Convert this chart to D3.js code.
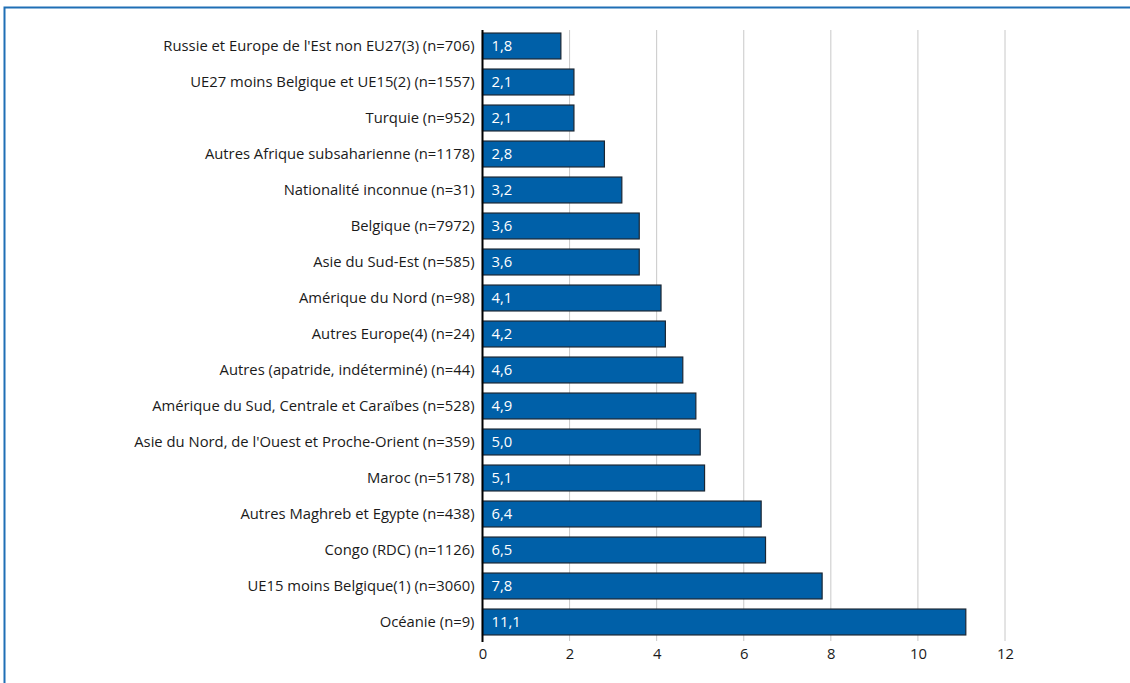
<!DOCTYPE html>
<html><head><meta charset="utf-8">
<script src="https://cdn.jsdelivr.net/npm/d3@7"></script>
<style>body{margin:0;background:#fff}svg{display:block}</style>
</head><body>
<script>
const categories = [
  "Russie et Europe de l'Est non EU27(3) (n=706)",
  "UE27 moins Belgique et UE15(2) (n=1557)",
  "Turquie (n=952)",
  "Autres Afrique subsaharienne (n=1178)",
  "Nationalité inconnue (n=31)",
  "Belgique (n=7972)",
  "Asie du Sud-Est (n=585)",
  "Amérique du Nord (n=98)",
  "Autres Europe(4) (n=24)",
  "Autres (apatride, indéterminé) (n=44)",
  "Amérique du Sud, Centrale et Caraïbes (n=528)",
  "Asie du Nord, de l'Ouest et Proche-Orient (n=359)",
  "Maroc (n=5178)",
  "Autres Maghreb et Egypte (n=438)",
  "Congo (RDC) (n=1126)",
  "UE15 moins Belgique(1) (n=3060)",
  "Océanie (n=9)"
];
const values = [1.8, 2.1, 2.1, 2.8, 3.2, 3.6, 3.6, 4.1, 4.2, 4.6, 4.9, 5.0, 5.1, 6.4, 6.5, 7.8, 11.1];
const tickValues = [0, 2, 4, 6, 8, 10, 12];

const W = 1130, H = 683;
const svg = d3.select("body").append("svg").attr("width", W).attr("height", H);
const font = "'Open Sans', 'Noto Sans', sans-serif";
const fs = "14.8px";

// frame
svg.append("path").attr("d", `M4.5,${H} L4.5,7.5 L${W},7.5`)
  .attr("fill", "none").attr("stroke", "#1f6fb5").attr("stroke-width", 2);

const x = d3.scaleLinear().domain([0, 12]).range([482.5, 1005]);
const y = d3.scaleBand().domain(categories).range([28, 640]).paddingInner(0.28).paddingOuter(0.14);

// gridlines
svg.append("g").selectAll("line").data(tickValues.filter(d => d > 0)).join("line")
  .attr("x1", d => x(d)).attr("x2", d => x(d))
  .attr("y1", 30).attr("y2", 641)
  .attr("stroke", "#c8c8c8").attr("stroke-width", 1);

// bars
svg.append("g").selectAll("rect").data(values).join("rect")
  .attr("x", x(0)).attr("y", (d, i) => y(categories[i]))
  .attr("width", d => x(d) - x(0)).attr("height", y.bandwidth())
  .attr("fill", "#0060a8").attr("stroke", "#1a2633").attr("stroke-width", 1.2);

// value labels
svg.append("g").selectAll("text").data(values).join("text")
  .attr("x", x(0) + 9).attr("y", (d, i) => y(categories[i]) + y.bandwidth() / 2)
  .attr("dy", "0.35em").attr("fill", "#fff")
  .style("font-family", font).style("font-size", fs)
  .text(d => d3.format(".1f")(d).replace(".", ","));

// y axis
const ya = svg.append("g").attr("transform", `translate(${x(0)},0)`)
  .call(d3.axisLeft(y).tickSize(0).tickPadding(8));
ya.select(".domain").remove();
ya.selectAll("text").style("font-family", font).style("font-size", fs).attr("fill", "#1a1a1a");
svg.append("line").attr("x1", x(0)).attr("x2", x(0)).attr("y1", 30).attr("y2", 642)
  .attr("stroke", "#000").attr("stroke-width", 2);

// x axis
const xa = svg.append("g").attr("transform", `translate(0,640)`)
  .call(d3.axisBottom(x).tickValues(tickValues).tickSize(0).tickPadding(8).tickFormat(d3.format("d")));
xa.select(".domain").remove();
xa.selectAll("text").style("font-family", font).style("font-size", fs).attr("fill", "#1a1a1a");
</script>
</body></html>
